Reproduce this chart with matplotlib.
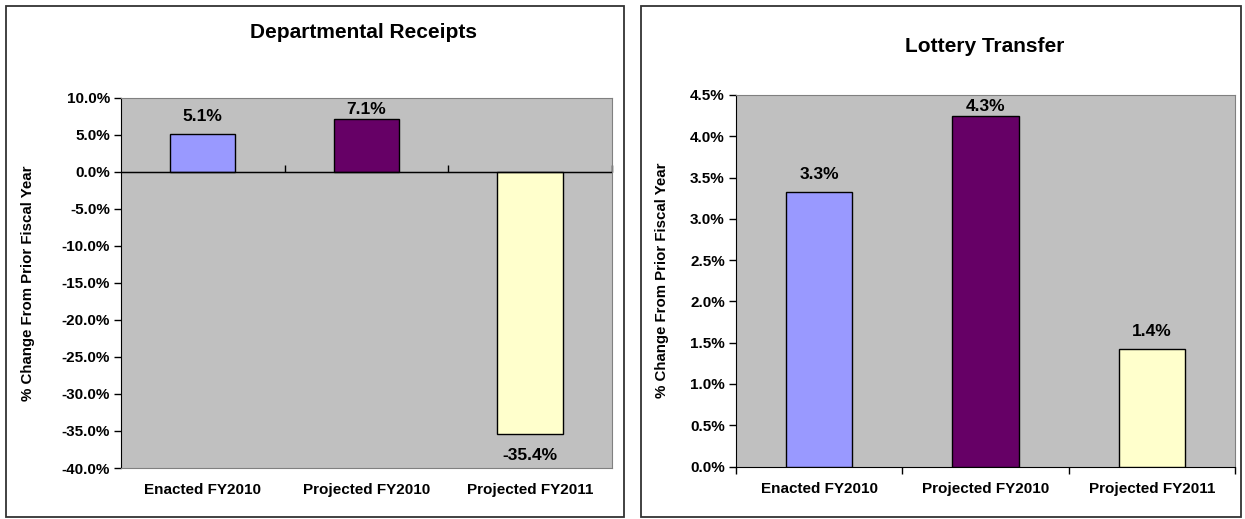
import numpy as np
import matplotlib.pyplot as plt
from matplotlib.patches import Rectangle
from matplotlib.ticker import FuncFormatter

plt.rcParams['font.family'] = ['Liberation Sans', 'DejaVu Sans']
plt.rcParams['font.weight'] = 'bold'

#Data
categories = ["Enacted FY2010", "Projected FY2010", "Projected FY2011"]
receipts = [5.1, 7.1, -35.4]
lottery = [3.3, 4.3, 1.4]
# bar heights as drawn (labels are rounded)
receipts_bar = [5.05, 7.1, -35.4]
lottery_bar = [3.32, 4.25, 1.42]
bar_colors = ["#9999FF", "#660066", "#FFFFCC"]

W, H = 1245, 519
fig = plt.figure(figsize=(W/100, H/100), dpi=100)
fig.patch.set_facecolor('white')

# panel frames
for x0, x1 in [(6, 624), (641, 1241)]:
    fig.patches.append(Rectangle((x0/W, 2/H), (x1-x0)/W, 511/H, transform=fig.transFigure,
                                 fill=False, edgecolor='#333333', linewidth=1.3))

def px_axes(l, t, r, b):
    return fig.add_axes([l/W, 1-b/H, (r-l)/W, (b-t)/H])

def setup(ax, vals, bars, ylo, yhi, step, fmt, title, title_y, title_x, ylab_x):
    x = np.arange(len(categories))
    ax.set_facecolor('#C0C0C0')
    ax.bar(x, bars, width=0.4, color=bar_colors, edgecolor='black', linewidth=1.0, zorder=3)
    ax.set_xlim(-0.5, 2.5)
    ax.set_ylim(ylo, yhi)
    ax.set_yticks(np.arange(ylo, yhi + step/2, step))
    ax.yaxis.set_major_formatter(FuncFormatter(lambda v, p: fmt % v))
    ax.tick_params(axis='y', length=5, width=1, labelsize=11, pad=3, color='black')
    for s in ['top', 'right', 'bottom']:
        ax.spines[s].set_color('#808080')
    ax.spines['left'].set_color('black')
    ax.set_xticks(x)
    ax.set_xticklabels(categories, fontsize=11, fontweight='bold')
    ax.tick_params(axis='x', length=0, pad=11)
    for lab in ax.get_yticklabels():
        lab.set_fontweight('bold')
    fig.text(title_x/W, 1-title_y/H, title, ha='center', va='baseline',
             fontsize=15, fontweight='bold')
    bb = ax.get_position()
    fig.text(ylab_x/W, (bb.y0+bb.y1)/2, "% Change From Prior Fiscal Year", rotation=90,
             ha='center', va='center', fontsize=10.8, fontweight='bold')
    # value labels
    fig.canvas.draw()
    top_px = ax.transData.transform((0, yhi))[1]
    for xi, v, b in zip(x, vals, bars):
        ypx = ax.transData.transform((xi, b))[1]
        if b >= 0:
            base = min(ypx + 13, top_px - 4 - 12)
            yd = ax.transData.inverted().transform((0, base))[1]
            ax.text(xi, yd, "%.1f%%" % v, ha='center', va='baseline', fontsize=12.5,
                    fontweight='bold', zorder=4)
        else:
            base = ypx - 14
            yd = ax.transData.inverted().transform((0, base))[1]
            ax.text(xi, yd, "%.1f%%" % v, ha='center', va='top', fontsize=12.5,
                    fontweight='bold', zorder=4)
    return x

# Departmental Receipts
ax1 = px_axes(121, 97.7, 611.7, 468)
setup(ax1, receipts, receipts_bar, -40, 10, 5, "%.1f%%", "Departmental Receipts", 38, 364, 28)
ax1.axhline(0, color='black', linewidth=1.0, zorder=4)
sec = ax1.secondary_xaxis(0.8)
sec.set_xticks([0.5, 1.5, 2.5])
sec.set_xticklabels([])
sec.tick_params(axis='x', length=5, width=1, color='black', direction='out')
sec.spines['bottom'].set_color('black')

# Lottery Transfer
ax2 = px_axes(736, 95, 1235, 466.5)
setup(ax2, lottery, lottery_bar, 0, 4.5, 0.5, "%.1f%%", "Lottery Transfer", 52, 985, 662)
ax2.spines['bottom'].set_color('black')
ax2.set_xticks([-0.5, 0.5, 1.5, 2.5], minor=True)
ax2.tick_params(axis='x', which='minor', length=5, width=1, color='black')

fig.savefig("out.png", dpi=100)
